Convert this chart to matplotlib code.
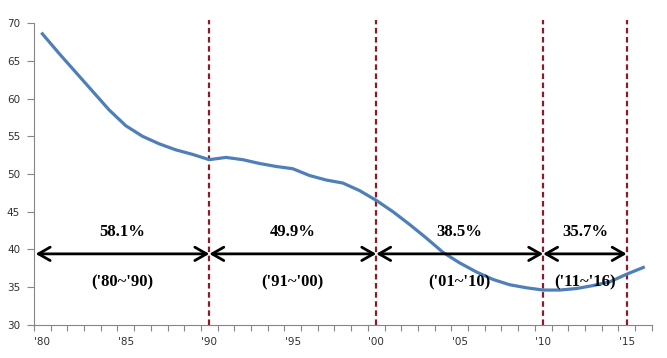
import matplotlib
matplotlib.use("Agg")
import matplotlib.pyplot as plt

years = list(range(1980, 2017))
values = [68.6, 66.0, 63.5, 61.0, 58.5, 56.4, 55.0, 54.0, 53.2, 52.6,
          51.9, 52.2, 51.9, 51.4, 51.0, 50.7, 49.8, 49.2, 48.8, 47.8,
          46.5, 45.0, 43.3, 41.5, 39.6, 38.2, 37.0, 36.0, 35.3, 34.9,
          34.6, 34.6, 34.8, 35.2, 35.7, 36.7, 37.6]

period_edges = [1979.6, 1990, 2000, 2010, 2015]
period_rates = ["58.1%", "49.9%", "38.5%", "35.7%"]
period_names = ["('80~'90)", "('91~'00)", "('01~'10)", "('11~'16)"]
split_years = [1990, 2000, 2010, 2015]
arrow_y = 39.4

tick_years = [1980, 1985, 1990, 1995, 2000, 2005, 2010, 2015]
tick_labels = ["'80", "'85", "'90", "'95", "'00", "'05", "'10", "'15"]

fig = plt.figure(figsize=(6.67, 3.58), dpi=100)
ax = fig.add_axes([0.051, 0.093, 0.926, 0.842])

ax.plot(years, values, color='#4F7FB8', lw=2.3, solid_joinstyle='round', zorder=3)

# dashed separators between periods
ax.vlines(split_years, 30, 70.4, colors='#8B1A2B', linestyles=(0, (2.5, 1.6)),
          lw=1.6, clip_on=False, zorder=2)

for i in range(len(period_rates)):
    x0, x1 = period_edges[i], period_edges[i + 1]
    ax.annotate('', xy=(x0, arrow_y), xytext=(x1, arrow_y),
                arrowprops=dict(arrowstyle='<->,head_length=0.7,head_width=0.4',
                                color='black', lw=2, mutation_scale=12,
                                shrinkA=0, shrinkB=0),
                zorder=4)
    xm = (x0 + x1) / 2
    ax.text(xm, 42.3, period_rates[i], ha='center', va='center',
            family='Liberation Serif', fontweight='bold', fontsize=12)
    ax.text(xm, 35.65, period_names[i], ha='center', va='center',
            family='Liberation Serif', fontweight='bold', fontsize=12)

ax.set_xlim(1979.5, 2016.5)
ax.set_ylim(30, 70)
ax.set_yticks(range(30, 71, 5))
ax.set_xticks(tick_years)
ax.set_xticklabels(tick_labels)
ax.set_xticks([y - 0.5 for y in range(1980, 2018)], minor=True)

for s in ['top', 'right']:
    ax.spines[s].set_visible(False)
for s in ['left', 'bottom']:
    ax.spines[s].set_color('#868686')
    ax.spines[s].set_linewidth(0.8)

ax.tick_params(axis='y', length=5, width=0.8, color='#868686', pad=5,
               labelsize=7.5, labelcolor='#303030')
ax.tick_params(axis='x', which='major', length=0, pad=9,
               labelsize=7.5, labelcolor='#303030')
ax.tick_params(axis='x', which='minor', length=4, width=0.8, color='#868686')

fig.savefig('out.png', dpi=100)
